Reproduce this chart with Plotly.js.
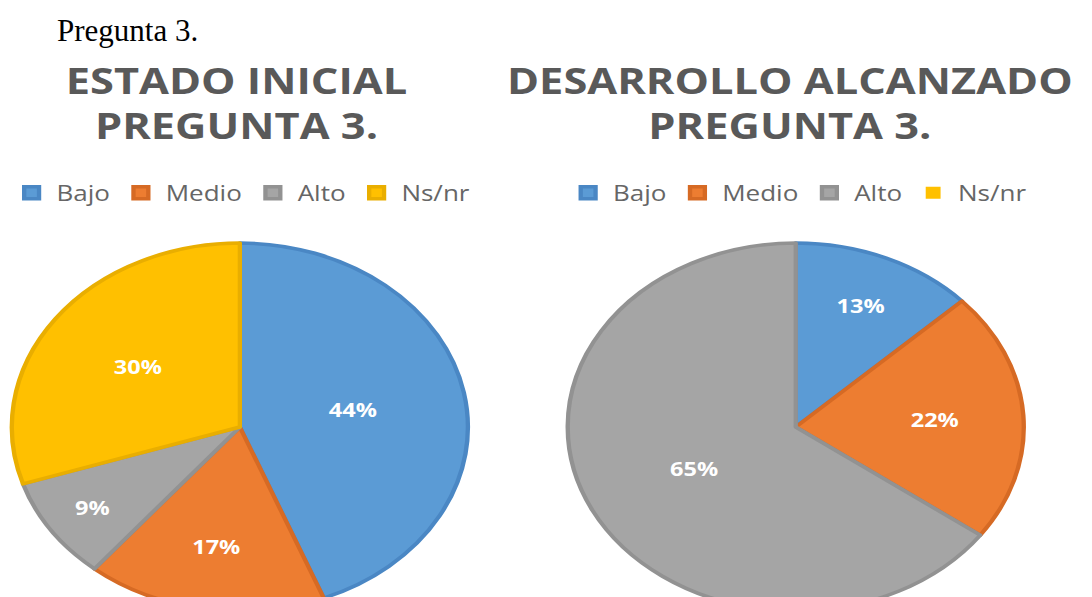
<!DOCTYPE html>
<html>
<head>
<meta charset="utf-8">
<script src="https://cdn.plot.ly/plotly-3.0.1.min.js"></script>
<style>
  html, body { margin: 0; padding: 0; width: 1092px; height: 597px; overflow: hidden; background: #ffffff; }
  #wrap { position: absolute; left: 0; top: 0; width: 881px; height: 620px; transform: scaleX(1.2395); transform-origin: 0 0; }
  #chart { width: 881px; height: 620px; }
  #heading { position: absolute; left: 57px; top: 16px; font-family: "Liberation Serif", "Times New Roman", serif; font-size: 31px; line-height: 30px; color: #000000; white-space: nowrap; }
</style>
</head>
<body>
<div id="wrap"><div id="chart"></div></div>
<div id="heading">Pregunta 3.</div>
<script>
// ---- data ----
const categories = ['Bajo', 'Medio', 'Alto', 'Ns/nr'];
const inicialValues = [44, 17, 9, 30];
const alcanzadoValues = [13, 22, 65, 0];
const titleInicial = 'ESTADO INICIAL<br>PREGUNTA 3.';
const titleAlcanzado = 'DESARROLLO ALCANZADO<br>PREGUNTA 3.';

// ---- styles ----
const fillColors = ['#5B9BD5', '#ED7D31', '#A5A5A5', '#FFC000'];
const edgeColors = ['#4A87C4', '#D66A24', '#929292', '#E9AE00'];
const greyText = '#595959';

function pct(vals) { return vals.map(v => v > 0 ? v + '%' : ''); }

function pieTrace(vals, domain, legendId, group) {
  return {
    type: 'pie',
    labels: categories,
    values: vals,
    text: pct(vals),
    textinfo: 'text',
    textposition: 'inside',
    insidetextorientation: 'horizontal',
    textfont: { family: 'Open Sans', size: 19, color: '#ffffff', weight: 'bold' },
    sort: false,
    direction: 'clockwise',
    rotation: 0,
    marker: { colors: fillColors, line: { color: edgeColors, width: vals.map(v => v > 0 ? 3.5 : 0) } },
    domain: domain,
    legend: legendId,
    legendgroup: group,
    hoverinfo: 'label+percent'
  };
}

const data = [
  pieTrace(inicialValues, { x: [0.004, 0.4353], y: [0.0145, 0.608] }, 'legend', 'inicial'),
  pieTrace(alcanzadoValues, { x: [0.513, 0.9444], y: [0.0145, 0.608] }, 'legend2', 'alcanzado')
];

const legendBase = {
  orientation: 'h',
  traceorder: 'normal',
  yanchor: 'middle',
  y: 1 - 193 / 620,
  xanchor: 'center',
  font: { family: 'Open Sans', size: 21, color: '#666666' },
  itemwidth: 30,
  bgcolor: 'rgba(0,0,0,0)'
};

const layout = {
  width: 881,
  height: 620,
  margin: { l: 0, r: 0, t: 0, b: 0 },
  paper_bgcolor: '#ffffff',
  showlegend: true,
  legend: Object.assign({}, legendBase, { x: 195 / 881 }),
  legend2: Object.assign({}, legendBase, { x: 644 / 881 }),
  annotations: [
    { text: titleInicial, x: 191 / 881, y: 1 - 103 / 620, xref: 'paper', yref: 'paper',
      xanchor: 'center', yanchor: 'middle', showarrow: false, align: 'center',
      font: { family: 'Open Sans', size: 35, color: greyText, weight: 'bold' } },
    { text: titleAlcanzado, x: 637 / 881, y: 1 - 103 / 620, xref: 'paper', yref: 'paper',
      xanchor: 'center', yanchor: 'middle', showarrow: false, align: 'center',
      font: { family: 'Open Sans', size: 35, color: greyText, weight: 'bold' } }
  ]
};

Plotly.newPlot('chart', data, layout, { displayModeBar: false, staticPlot: true });
</script>
</body>
</html>
